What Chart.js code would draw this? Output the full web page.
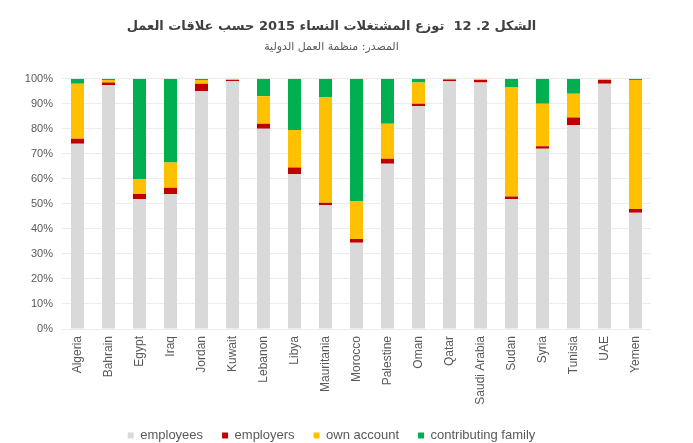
<!DOCTYPE html>
<html lang="ar">

<head>
    <meta charset="UTF-8">
    <title>توزع المشتغلات النساء 2015</title>
    <script src="https://cdn.jsdelivr.net/npm/chart.js"></script>
    <style>
        html, body { margin: 0; padding: 0; background: #fff; }
        .contenedor { width: 693px; height: 443px; }
    </style>
</head>

<body>
    <div class="contenedor">
        <canvas id="chart" width="693" height="443"></canvas>
    </div>

    <script>
        // Datos (porcentajes por país)
        const paises = ['Algeria', 'Bahrain', 'Egypt', 'Iraq', 'Jordan', 'Kuwait', 'Lebanon', 'Libya',
            'Mauritania', 'Morocco', 'Palestine', 'Oman', 'Qatar', 'Saudi Arabia', 'Sudan', 'Syria',
            'Tunisia', 'UAE', 'Yemen'];
        const employees = [74, 97.5, 52, 54, 95, 99, 80, 62, 49.5, 34.5, 66, 89, 99, 98.5, 52, 72, 81.5, 98, 46.5];
        const employers = [2, 1, 2, 2.5, 3, 0.5, 2, 2.5, 1, 1.5, 2, 1, 0.7, 1, 1, 1, 3, 1.5, 1.5];
        const ownAccount = [22, 1, 6, 10, 1.5, 0.3, 11, 15, 42, 15, 14, 8.5, 0.2, 0.3, 43.5, 17, 9.5, 0.3, 51.5];
        const family = [2, 0.5, 40, 33.5, 0.5, 0.2, 7, 20.5, 7.5, 49, 18, 1.5, 0.1, 0.2, 3.5, 10, 6, 0.2, 0.5];
        const yTicks = [0, 10, 20, 30, 40, 50, 60, 70, 80, 90, 100];

        const gris = '#595959';
        const fuente = 'Liberation Sans, Arial, sans-serif';

        function serie(label, data, color) {
            return {
                label: label,
                data: data,
                backgroundColor: color,
                borderWidth: 0,
                barPercentage: 0.42,
                categoryPercentage: 1
            };
        }

        const ctx = document.getElementById('chart').getContext('2d');
        const chart = new Chart(ctx, {
            type: 'bar',
            data: {
                labels: paises,
                datasets: [
                    serie('employees', employees, '#d9d9d9'),
                    serie('employers', employers, '#c00000'),
                    serie('own account', ownAccount, '#ffc000'),
                    serie('contributing family', family, '#00b050')
                ]
            },
            options: {
                responsive: false,
                animation: false,
                layout: {
                    padding: { left: 12, right: 42, top: 0, bottom: -9 }
                },
                plugins: {
                    title: {
                        display: true,
                        text: 'الشكل 2. 12  توزع المشتغلات النساء 2015 حسب علاقات العمل',
                        color: '#404040',
                        font: { family: 'DejaVu Sans, sans-serif', size: 13, weight: 'bold' },
                        padding: { top: 19, bottom: 6 }
                    },
                    subtitle: {
                        display: true,
                        text: 'المصدر: منظمة العمل الدولية',
                        color: gris,
                        font: { family: 'DejaVu Sans, sans-serif', size: 11 },
                        padding: { top: 0, bottom: 25 }
                    },
                    legend: {
                        position: 'bottom',
                        labels: {
                            color: gris,
                            font: { family: fuente, size: 13 },
                            boxWidth: 6,
                            boxHeight: 6,
                            padding: 19
                        }
                    },
                    tooltip: { enabled: false }
                },
                scales: {
                    x: {
                        stacked: true,
                        grid: { display: false, drawTicks: false },
                        border: { display: false },
                        ticks: {
                            color: gris,
                            font: { family: fuente, size: 12 },
                            maxRotation: 90,
                            minRotation: 90,
                            autoSkip: false,
                            padding: 7
                        },
                        afterFit: function (scale) { scale.height = 81; }
                    },
                    y: {
                        stacked: true,
                        min: 0,
                        max: 100,
                        grid: { color: '#ececec', drawTicks: false },
                        border: { display: false },
                        afterBuildTicks: function (scale) {
                            scale.ticks = yTicks.map(v => ({ value: v }));
                        },
                        ticks: {
                            color: gris,
                            font: { family: fuente, size: 11 },
                            padding: 9,
                            callback: v => v + '%'
                        },
                        afterFit: function (scale) { scale.width = 50; }
                    }
                }
            }
        });
    </script>
</body>

</html>
